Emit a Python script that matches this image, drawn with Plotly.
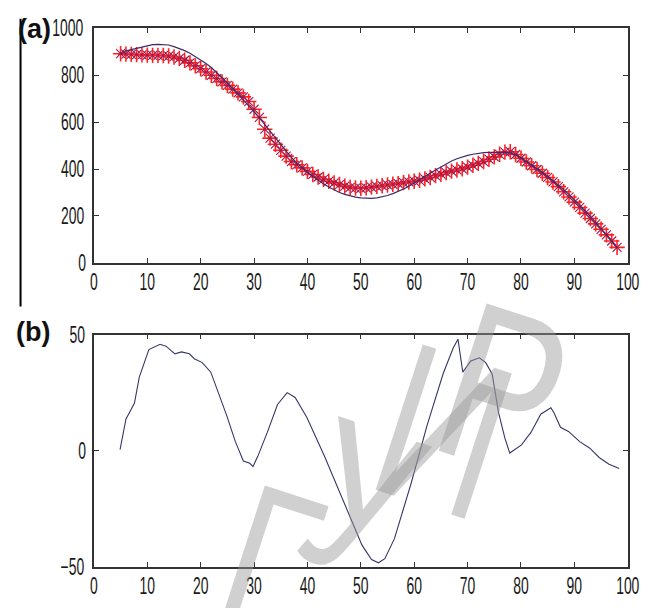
import plotly.graph_objects as go

# ---------------- data ----------------
x_top = list(range(5, 99))
measured = [892, 890, 889, 888, 887, 886, 885, 885, 884, 882,
            878, 872, 864, 853, 840, 828, 814, 800, 786, 772,
            757, 741, 725, 708, 688, 655, 620, 570, 532, 506,
            480, 455, 432, 418, 405, 390, 377, 366, 356, 348,
            341, 334, 327, 322, 319, 318, 320, 323, 326, 329,
            332, 335, 338, 342, 345, 348, 352, 358, 364, 372,
            378, 385, 391, 396, 401, 408, 416, 424, 432, 442,
            452, 463, 472, 474, 462, 446, 430, 414, 398, 382,
            364, 345, 325, 303, 281, 259, 236, 212, 189, 166,
            143, 119, 93, 66]
fitted = [892, 903, 909, 915, 922, 928, 931, 932, 932, 929,
          922, 914, 905, 894, 880, 866, 850, 833, 812, 790,
          767, 744, 720, 696, 670, 645, 618, 590, 560, 530,
          501, 474, 449, 426, 405, 385, 368, 351, 337, 323,
          311, 300, 292, 285, 280, 277, 275, 275, 277, 281,
          287, 295, 304, 315, 327, 340, 354, 368, 382, 396,
          409, 422, 434, 444, 452, 458, 463, 467, 470, 471,
          472, 472, 471, 468, 460, 448, 433, 418, 402, 386,
          369, 351, 332, 312, 291, 269, 246, 222, 198, 173,
          147, 120, 92, 63]

x_err = [4.9, 6.0, 7.6, 8.5, 10.3, 12.4, 13.5, 15.2, 16.4, 17.9,
         18.8, 20.3, 21.9, 23.4, 24.9, 26.5, 28.0, 29.2, 29.8, 30.7,
         32.5, 34.4, 36.2, 37.7, 39.9, 43.2, 45.9, 48.4, 50.2, 52.0,
         53.3, 54.5, 56.3, 59.4, 62.4, 65.4, 67.3, 68.2, 69.1, 70.6,
         72.2, 73.4, 74.6, 75.8, 77.0, 77.9, 80.1, 81.9, 83.7, 85.6,
         86.2, 87.4, 88.9, 91.0, 92.9, 94.7, 96.5, 98.4]
err = [0.5, 13.6, 20.5, 31.7, 43.5, 45.8, 45.0, 41.7, 42.5, 41.7,
       39.6, 37.9, 33.8, 24.7, 15.0, 3.9, -4.4, -5.4, -6.8, -2.4,
       8.0, 19.9, 25.0, 22.9, 14.3, -2.4, -17.0, -30.8, -40.5, -46.8,
       -48.2, -46.4, -37.8, -14.2, 10.8, 33.0, 44.2, 48.0, 33.8, 38.6,
       40.0, 37.9, 33.0, 16.4, 5.3, -1.0, 2.5, 8.0, 15.7, 18.5,
       16.2, 10.1, 8.3, 3.9, 1.1, -3.0, -5.8, -7.6]

x_ticks = [0, 10, 20, 30, 40, 50, 60, 70, 80, 90, 100]
y_ticks_a = [0, 200, 400, 600, 800, 1000]
y_ticks_b = [-50, 0, 50]
panel_labels = ["(a)", "(b)"]
watermark = ["Г", "У", "И", "Р"]

# ---------------- figure ----------------
W, H = 667, 608
def px(x):
    return x / W
def py(y):
    return 1 - y / H

fig = go.Figure()

fig.add_trace(go.Scatter(x=x_top, y=measured, mode="markers",
                         marker=dict(symbol="cross-thin-open", size=11, color="#ff2020",
                                     line=dict(color="#ff2020", width=1.6)),
                         xaxis="x", yaxis="y", showlegend=False))
fig.add_trace(go.Scatter(x=x_top, y=measured, mode="markers",
                         marker=dict(symbol="x-thin-open", size=9, color="#a01850",
                                     line=dict(color="#a01850", width=1.1)),
                         xaxis="x", yaxis="y", showlegend=False))
fig.add_trace(go.Scatter(x=x_top, y=fitted, mode="lines",
                         line=dict(color="#3d2b6b", width=1.2),
                         xaxis="x", yaxis="y", showlegend=False))
fig.add_trace(go.Scatter(x=x_err, y=err, mode="lines",
                         line=dict(color="#36366a", width=1.1),
                         xaxis="x2", yaxis="y2", showlegend=False))

tick_font = dict(family="Liberation Sans, Arial, sans-serif", size=17, color="#1a1a1a")
ax_common = dict(showline=True, linecolor="#333", linewidth=1.5, mirror="ticks",
                 ticks="inside", ticklen=5, tickcolor="#333", tickwidth=1.2,
                 showgrid=False, zeroline=False, tickfont=tick_font)

xdom = [px(91.5), px(641)]
fig.update_layout(
    width=W, height=H,
    margin=dict(l=0, r=0, t=0, b=0),
    paper_bgcolor="white", plot_bgcolor="white",
    xaxis=dict(domain=xdom, range=[0, 100], tickvals=x_ticks, anchor="y",
               ticklabelstandoff=3, **ax_common),
    yaxis=dict(domain=[py(262), py(20)], range=[0, 1000], tickvals=y_ticks_a,
               anchor="x", ticklabelstandoff=2, **ax_common),
    xaxis2=dict(domain=xdom, range=[0, 100], tickvals=x_ticks, anchor="y2",
                ticklabelstandoff=3, **ax_common),
    yaxis2=dict(domain=[py(576), py(336)], range=[-50, 50], tickvals=y_ticks_b,
                anchor="x2", ticklabelstandoff=2, **ax_common),
)

# panel labels
for lab, (cx, cy) in zip(panel_labels, [(30, 21), (29, 333)]):
    fig.add_annotation(x=px(cx), y=py(cy), xref="paper", yref="paper",
                       text="<b>" + lab + "</b>", showarrow=False,
                       font=dict(family="Liberation Sans, Arial, sans-serif", size=27, color="#111"),
                       xanchor="center", yanchor="middle")

# left vertical border line
fig.add_shape(type="line", xref="paper", yref="paper",
              x0=px(16), x1=px(16), y0=py(10), y1=py(307),
              line=dict(color="black", width=2))

# watermark letters
for ch, (cx, cy), sz in zip(watermark, [(274, 568), (366, 506), (452, 436), (514, 393)],
                            [200, 212, 222, 225]):
    fig.add_annotation(x=px(cx), y=py(cy), xref="paper", yref="paper",
                       text=ch, showarrow=False, textangle=18,
                       font=dict(family="Liberation Sans, Arial, sans-serif", size=sz,
                                 color="rgba(150,150,150,0.45)"),
                       xanchor="center", yanchor="middle")

# MATLAB-style tall, narrow tick digits; condensed watermark letters
js = """
(function(){
var gd = document.getElementById('{plot_id}');
function sc(el, sx, sy){
  var cur = el.getAttribute('transform') || '';
  if (cur !== '' && el.getAttribute('data-sc') === cur) return;
  var bb = el.getBBox();
  var cx = bb.x + bb.width/2, cy = bb.y + bb.height/2;
  var t = cur + ' translate(' + cx + ',' + cy + ') scale(' + sx + ',' + sy + ') translate(' + (-cx) + ',' + (-cy) + ')';
  el.setAttribute('transform', t);
  el.setAttribute('data-sc', t);
}
function apply(){
  gd.querySelectorAll('.xtick text, .ytick text, .x2tick text, .y2tick text').forEach(function(el){
    sc(el, 0.82, 1.38);
  });
  var anns = gd.querySelectorAll('.annotation-text');
  for (var i = 2; i < anns.length; i++) { sc(anns[i], 0.76, 1.0); }
}
apply();
setTimeout(apply, 50);
setTimeout(apply, 300);
if (gd.on) gd.on('plotly_afterplot', apply);
})();
"""

fig.write_html("out.html", post_script=js)
